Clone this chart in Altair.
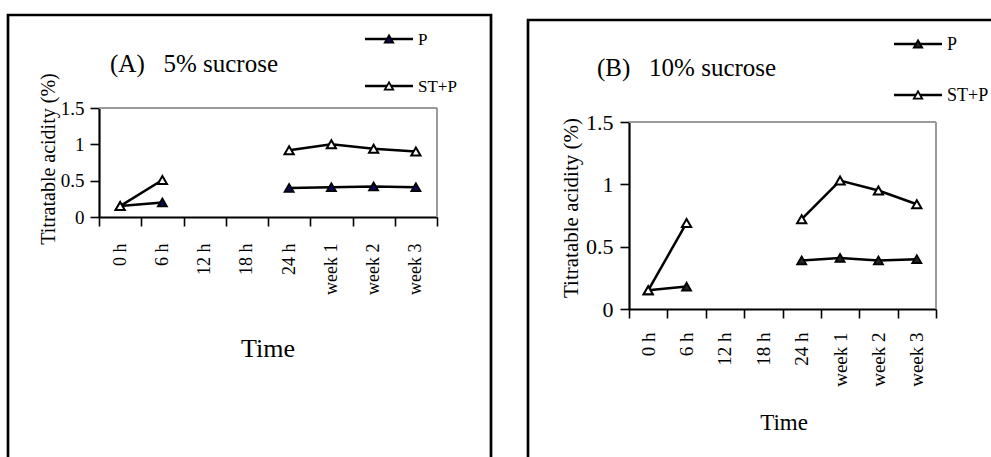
import altair as alt
import pandas as pd

# ---------------- data ----------------
categories = ["0 h", "6 h", "12 h", "18 h", "24 h", "week 1", "week 2", "week 3"]
times = ["0 h", "6 h", "24 h", "week 1", "week 2", "week 3"]
segments = [1, 1, 2, 2, 2, 2]
series_names = ["P", "ST+P"]
a_p = [0.15, 0.20, 0.40, 0.41, 0.42, 0.41]
a_stp = [0.15, 0.51, 0.92, 1.00, 0.94, 0.90]
b_p = [0.15, 0.18, 0.39, 0.41, 0.39, 0.40]
b_stp = [0.15, 0.69, 0.72, 1.03, 0.95, 0.84]
y_ticks = [0, 0.5, 1, 1.5]
title_a = "(A)\u00a0\u00a0\u00a05% sucrose"
title_b = "(B)\u00a0\u00a0\u00a010% sucrose"
y_title = "Titratable acidity (%)"
x_title = "Time"

FONT = "Liberation Serif"


def long_df(p, stp):
    rows = []
    for s, vals in zip(series_names, (p, stp)):
        for t, seg, v in zip(times, segments, vals):
            rows.append({"time": t, "series": s, "value": v, "grp": f"{s}-{seg}"})
    return pd.DataFrame(rows)


def panel(df, xr, yr, xoff, yoff, xlab, ylab, xpad, ypad, pfill):
    x = alt.X(
        "time:N",
        sort=categories,
        bandPosition=0.5,
        scale=alt.Scale(type="band", domain=categories, range=xr,
                        paddingInner=0, paddingOuter=0),
        axis=alt.Axis(orient="bottom", offset=xoff, title=None, labelAngle=-90,
                      labelFont=FONT, labelFontSize=xlab, labelColor="black",
                      labelPadding=xpad, tickBand="extent", tickSize=9,
                      tickColor="black", tickWidth=1.6, domainColor="black",
                      domainWidth=2.2, grid=False, labelOverlap=False),
    )
    y = alt.Y(
        "value:Q",
        scale=alt.Scale(domain=[0, 1.5], range=yr, nice=False, zero=True),
        axis=alt.Axis(orient="left", offset=yoff, title=None, values=y_ticks,
                      format="~g", labelFont=FONT, labelFontSize=ylab,
                      labelColor="black", labelPadding=ypad, tickSize=9,
                      tickColor="black", tickWidth=1.6, domainColor="black",
                      domainWidth=2.2, grid=False, labelOverlap=False),
    )
    base = alt.Chart(df).encode(x=x, y=y)
    line = base.mark_line(color="black", strokeWidth=2.5).encode(detail="grp:N")
    pts_p = base.transform_filter(alt.datum.series == "P").mark_point(
        shape="triangle-up", size=85, opacity=1
    ).encode(fill=alt.value(pfill), stroke=alt.value("black"),
             strokeWidth=alt.value(1.7))
    pts_s = base.transform_filter(alt.datum.series == "ST+P").mark_point(
        shape="triangle-up", size=85, opacity=1
    ).encode(fill=alt.value("white"), stroke=alt.value("black"),
             strokeWidth=alt.value(2))
    return alt.layer(line, pts_p, pts_s)


W, H = 991, 457

# panel geometry (pixels)
A_x0, A_x1, A_y0, A_y1 = 99, 437, 108, 217
B_x0, B_x1, B_y0, B_y1 = 629, 936, 122, 309

panelA = panel(long_df(a_p, a_stp), [A_x0, A_x1], [A_y1, A_y0],
               -(H - A_y1), -A_x0, 18, 19, 17, 6, "#0a0a55")
panelB = panel(long_df(b_p, b_stp), [B_x0, B_x1], [B_y1, B_y0],
               -(H - B_y1), -B_x0, 19, 22, 14, 7, "#222222")

one = pd.DataFrame({"k": [0]})


def text(t, x, y, size, angle=0, align="left", baseline="alphabetic"):
    return alt.Chart(pd.DataFrame({"t": [t]})).mark_text(
        font=FONT, fontSize=size, color="black", align=align,
        baseline=baseline, angle=angle
    ).encode(text="t:N", x=alt.value(x), y=alt.value(y))


def rule(x, x2, y, y2, color="black", width=2):
    return alt.Chart(one).mark_rule(color=color, strokeWidth=width).encode(
        x=alt.value(x), x2=alt.value(x2), y=alt.value(y), y2=alt.value(y2))


def frame(x, x2, y, y2):
    return alt.Chart(one).mark_rect(fillOpacity=0, stroke="black",
                                    strokeWidth=2.7).encode(
        x=alt.value(x), x2=alt.value(x2), y=alt.value(y), y2=alt.value(y2))


def legend_item(xl, xr, y, label, fill, size):
    ln = rule(xl, xr, y, y, "black", 2.5)
    pt = alt.Chart(one).mark_point(shape="triangle-up", size=70, opacity=1).encode(
        x=alt.value((xl + xr) / 2), y=alt.value(y), fill=alt.value(fill),
        stroke=alt.value("black"), strokeWidth=alt.value(1.8))
    tx = text(label, xr + 5, y + 1, size, baseline="middle")
    return [ln, pt, tx]


deco = [
    frame(8, 491, 15, 480),
    frame(528, 1010, 20, 480),
    # plot-area grey borders
    rule(A_x0, A_x1, A_y0, A_y0, "#9a9a9a", 2),
    rule(A_x1, A_x1, A_y0, A_y1, "#9a9a9a", 2),
    rule(B_x0, B_x1, B_y0, B_y0, "#9a9a9a", 2),
    rule(B_x1, B_x1, B_y0, B_y1, "#9a9a9a", 2),
    text(title_a, 110, 72, 25),
    text(title_b, 597, 76, 25),
    text(y_title, 49, 159, 20, angle=270, align="center", baseline="middle"),
    text(y_title, 572, 208, 21, angle=270, align="center", baseline="middle"),
    text(x_title, 268, 357, 26, align="center"),
    text(x_title, 784, 430, 23, align="center"),
]
deco += legend_item(365, 413, 39, "P", "#0a0a55", 17)
deco += legend_item(365, 413, 86, "ST+P", "white", 17)
deco += legend_item(894, 942, 44, "P", "#222222", 18)
deco += legend_item(894, 942, 95, "ST+P", "white", 18)

chart = alt.layer(*deco, panelA, panelB).resolve_scale(
    x="independent", y="independent"
).resolve_axis(
    x="independent", y="independent"
).properties(
    width=W, height=H, padding=0,
    autosize=alt.AutoSizeParams(type="none"),
    background="white",
).configure_view(strokeWidth=0)

chart.save("out.html", embed_options={"renderer": "svg", "actions": False})
